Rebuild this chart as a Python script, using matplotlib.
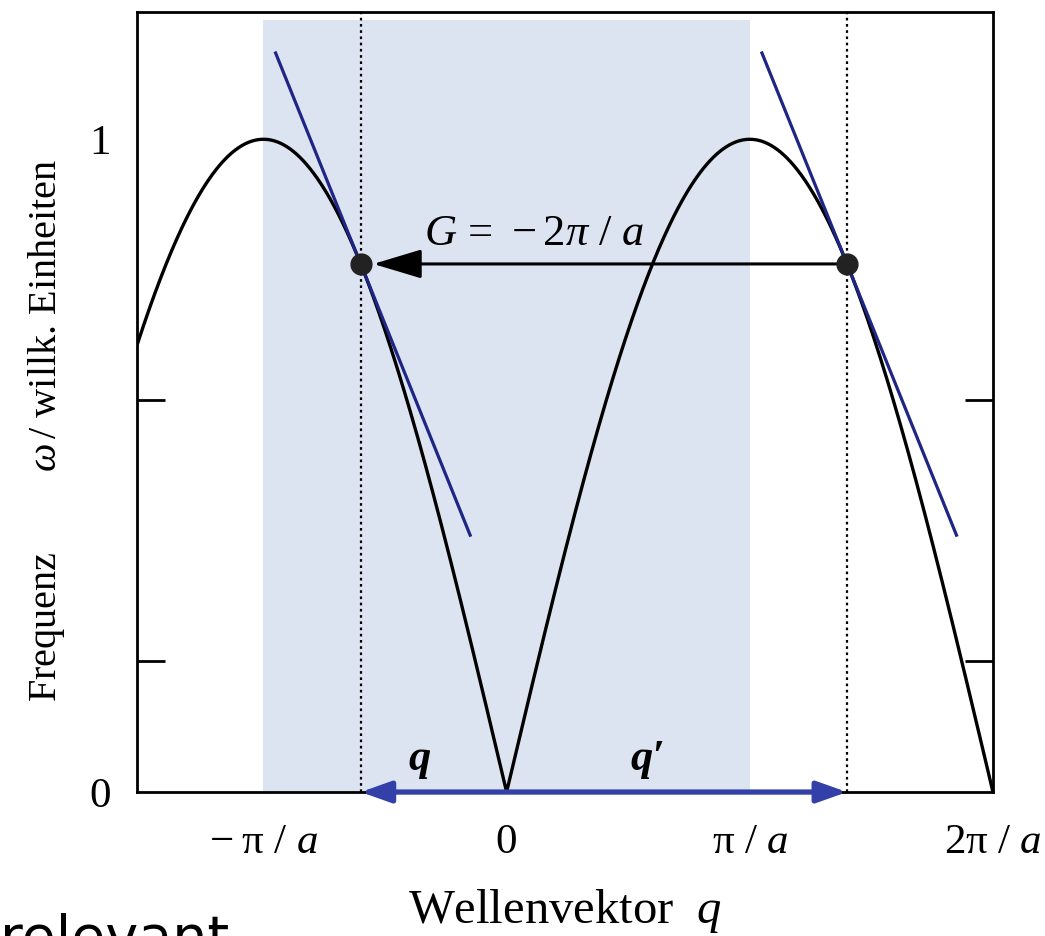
import numpy as np
import matplotlib
matplotlib.use("Agg")
import matplotlib.pyplot as plt

plt.rcParams["font.family"] = ["Liberation Serif", "DejaVu Serif"]
plt.rcParams["mathtext.fontset"] = "custom"
plt.rcParams["mathtext.rm"] = "Liberation Serif"
plt.rcParams["mathtext.it"] = "Liberation Serif:italic"
plt.rcParams["mathtext.bf"] = "Liberation Serif:bold:italic"

# wave vector in units of pi/a, frequency in arbitrary units
q_min, q_max = -1.52, 2.0
omega_max = 1.0
q_point = -0.6          # q inside the first zone
G = 2.0                 # reciprocal lattice vector (pi/a units)
zone = [-1.0, 1.0]

x_ticks = [-1, 0, 1, 2]
x_labels = [r"$-\;\mathrm{\pi}\ /\ a$", "0", r"$\mathrm{\pi}\ /\ a$", r"$2\mathrm{\pi}\ /\ a$"]
y_ticks = [0, 1]
y_labels = ["0", "1"]
y_minor = [0.2, 0.6, 1.0]
tangent_span = [-0.35, 0.45]


def omega(q):
    return omega_max * np.abs(np.sin(np.pi * np.asarray(q) / 2))


def slope(q):
    return omega_max * np.pi / 2 * np.cos(np.pi * q / 2) * np.sign(np.sin(np.pi * q / 2))


navy = "#1f2585"
arrow_blue = "#3240a8"

fig = plt.figure(figsize=(10.45, 9.36), dpi=100)
ax = fig.add_axes([0.1311, 0.1538, 0.8191, 0.8334])

ax.axvspan(zone[0], zone[1], ymin=0, ymax=0.99, color="#dde4f1", lw=0, zorder=0)

qq = np.linspace(q_min, q_max, 800)
ax.plot(qq, omega(qq), color="black", lw=2.4, zorder=3)

q_prime = q_point + G
for qp in (q_point, q_prime):
    ax.axvline(qp, color="black", ls=(0, (1.2, 1.6)), lw=1.6, zorder=2)
    t = np.array(tangent_span)
    ax.plot(qp + t, omega(qp) + slope(qp) * t, color=navy, lw=2.3, zorder=4)

w0 = float(omega(q_point))
ax.plot([q_point, q_prime], [w0, w0], "o", color="#222222", ms=15, zorder=6)
ax.annotate("", xy=(q_point, w0), xytext=(q_prime, w0),
            arrowprops=dict(arrowstyle="-|>,head_length=1.5,head_width=0.45",
                            color="black", lw=2.2, shrinkA=0, shrinkB=9,
                            mutation_scale=20), zorder=5)
ax.text(0.11, w0 + 0.015, r"$G\,=\,-2\pi\ /\ a$", fontsize=32, ha="center",
        va="bottom", zorder=5)

ax.annotate("", xy=(q_point, 0), xytext=(q_prime, 0),
            arrowprops=dict(arrowstyle="<|-|>,head_length=0.9,head_width=0.32",
                            color=arrow_blue, lw=3.8, shrinkA=0, shrinkB=0,
                            mutation_scale=20), zorder=7, annotation_clip=False)
ax.text(-0.36, 0.02, "q", fontsize=32, fontweight="bold", fontstyle="italic",
        ha="center", va="bottom")
ax.text(0.58, 0.02, "q\u2032", fontsize=32, fontweight="bold", fontstyle="italic",
        ha="center", va="bottom")

ax.set_xlim(q_min, q_max)
ax.set_ylim(0, 1.195)
ax.set_xticks(x_ticks)
ax.set_xticklabels(x_labels)
ax.set_yticks(y_ticks)
ax.set_yticklabels(y_labels)
ax.set_xticks([-1, 1], minor=True)
ax.set_yticks(y_minor, minor=True)
ax.tick_params(which="major", length=0, labelsize=31)
ax.tick_params(axis="x", which="major", pad=23)
ax.tick_params(axis="y", which="major", pad=19)
ax.tick_params(which="minor", direction="in", length=20, width=2, right=True)
ax.tick_params(axis="x", which="minor", length=19)

for s in ax.spines.values():
    s.set_linewidth(2)

ax.set_xlabel(r"Wellenvektor  $q$", fontsize=35, labelpad=18)
ax.set_ylabel("Frequenz" + " " * 8 + r"$\omega\,$/ willk. Einheiten", fontsize=29)
ax.yaxis.set_label_coords(-0.082, 0.463)

fig.text(0.0, -0.02, "relevant", family="DejaVu Sans", fontsize=40,
         ha="left", va="baseline")

fig.savefig("out.png", dpi=100)
